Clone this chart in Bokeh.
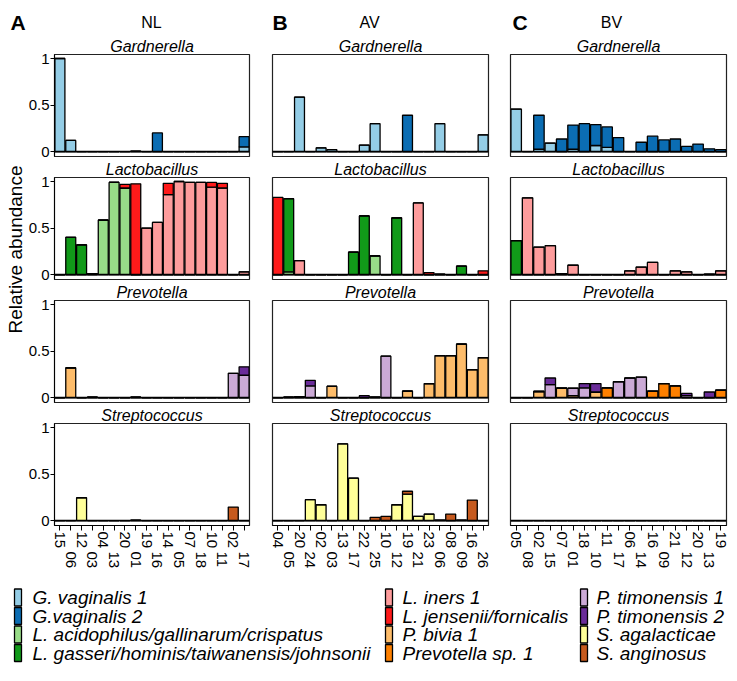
import math
from bokeh.plotting import figure
from bokeh.layouts import row, column
from bokeh.models import ColumnDataSource, Range1d, FixedTicker, LinearAxis, Span
from bokeh.embed import file_html
from bokeh.resources import INLINE
from bokeh.core.properties import value

FONT = "Liberation Sans"

# ---------------- data ----------------
species_names = ["G. vaginalis 1", "G.vaginalis 2",
                 "L. acidophilus/gallinarum/crispatus", "L. gasseri/hominis/taiwanensis/johnsonii",
                 "L. iners 1", "L. jensenii/fornicalis", "P. bivia 1", "Prevotella sp. 1",
                 "P. timonensis 1", "P. timonensis 2", "S. agalacticae", "S. anginosus"]
species_colors = ["#94cde6", "#0b6db3", "#98dc88", "#119a19", "#fe9c9c", "#fe1a1a",
                  "#fdbc6a", "#fe8000", "#cbaad6", "#6a2c99", "#ffff99", "#c65a1e"]
genera = ["Gardnerella", "Lactobacillus", "Prevotella", "Streptococcus"]
group_titles = ["NL", "AV", "BV"]
panel_letters = ["A", "B", "C"]

nl_samples = ["15", "06", "12", "03", "04", "13", "20", "01", "19", "16", "14", "05", "07", "18", "10", "11", "02", "17"]
av_samples = ["04", "05", "20", "24", "02", "03", "13", "17", "22", "25", "10", "12", "19", "21", "23", "06", "08", "09", "16", "26"]
bv_samples = ["05", "08", "02", "15", "07", "01", "18", "10", "11", "17", "06", "14", "16", "09", "21", "12", "20", "13", "19"]

# NL
nl_gv1 = [1.00, 0.12, 0, 0, 0, 0, 0, 0.005, 0, 0, 0, 0, 0, 0, 0, 0, 0, 0.05]
nl_gv2 = [0, 0, 0, 0, 0, 0, 0, 0, 0, 0.20, 0, 0, 0, 0, 0, 0, 0, 0.11]
nl_lacid = [0, 0, 0, 0, 0.585, 0.99, 0.93, 0, 0, 0, 0, 0, 0, 0, 0, 0, 0, 0]
nl_lgas = [0, 0.40, 0.32, 0.01, 0, 0, 0, 0, 0, 0, 0, 0, 0, 0, 0, 0, 0, 0]
nl_liners = [0, 0, 0, 0, 0, 0, 0, 0, 0.50, 0.56, 0.86, 1.00, 0.99, 0.99, 0.94, 0.93, 0, 0.03]
nl_ljen = [0, 0, 0, 0, 0, 0, 0.04, 0.975, 0, 0, 0.12, 0, 0, 0, 0.05, 0.05, 0, 0]
nl_pbiv = [0, 0.32, 0, 0, 0, 0, 0, 0, 0, 0, 0, 0, 0, 0, 0, 0, 0, 0]
nl_psp = [0, 0, 0, 0.005, 0, 0, 0, 0.004, 0, 0, 0, 0, 0, 0, 0, 0, 0, 0]
nl_ptim1 = [0, 0, 0, 0, 0, 0, 0, 0, 0, 0, 0, 0, 0, 0, 0, 0, 0.26, 0.24]
nl_ptim2 = [0, 0, 0, 0, 0, 0, 0, 0, 0, 0, 0, 0, 0, 0, 0, 0, 0, 0.09]
nl_sagal = [0, 0, 0.245, 0, 0, 0, 0, 0.005, 0, 0, 0, 0, 0, 0, 0, 0, 0, 0]
nl_sang = [0, 0, 0, 0, 0, 0, 0, 0, 0, 0, 0, 0, 0, 0, 0, 0, 0.145, 0]

# AV
av_gv1 = [0, 0, 0.585, 0, 0.04, 0.02, 0, 0, 0.07, 0.30, 0, 0, 0, 0, 0, 0.30, 0, 0, 0, 0.18]
av_gv2 = [0, 0, 0, 0, 0, 0, 0, 0, 0, 0, 0, 0, 0.39, 0, 0, 0, 0, 0, 0, 0]
av_lacid = [0, 0.03, 0, 0, 0, 0, 0, 0, 0, 0.20, 0, 0, 0, 0, 0, 0, 0, 0, 0, 0]
av_lgas = [0, 0.785, 0, 0, 0, 0, 0, 0.24, 0.63, 0, 0, 0.61, 0, 0, 0, 0, 0, 0.09, 0, 0]
av_liners = [0, 0, 0.15, 0, 0, 0, 0, 0, 0, 0, 0, 0, 0, 0.77, 0, 0.005, 0, 0, 0, 0]
av_ljen = [0.83, 0, 0, 0, 0, 0, 0, 0, 0, 0, 0, 0, 0, 0, 0.02, 0, 0, 0, 0, 0.04]
av_pbiv = [0, 0, 0, 0, 0, 0.12, 0, 0, 0, 0, 0, 0, 0.07, 0, 0.15, 0.45, 0.45, 0.575, 0.30, 0.43]
av_psp = [0, 0.005, 0.01, 0, 0, 0, 0, 0, 0, 0.005, 0, 0, 0, 0, 0, 0, 0, 0, 0, 0]
av_ptim1 = [0, 0, 0, 0.125, 0, 0, 0, 0, 0, 0, 0.445, 0, 0, 0, 0, 0, 0, 0, 0, 0]
av_ptim2 = [0, 0, 0, 0.06, 0, 0, 0, 0, 0.02, 0, 0, 0, 0, 0, 0, 0, 0, 0, 0, 0]
av_sagal = [0, 0, 0, 0.225, 0.17, 0, 0.825, 0.455, 0, 0, 0, 0.17, 0.285, 0.045, 0.07, 0.005, 0, 0.005, 0, 0]
av_sang = [0, 0, 0, 0, 0, 0, 0, 0, 0, 0.035, 0.045, 0, 0.03, 0, 0, 0, 0.07, 0, 0.22, 0]

# BV
bv_gv1 = [0.455, 0, 0.025, 0.09, 0, 0.025, 0, 0.065, 0.045, 0, 0, 0, 0, 0, 0, 0, 0, 0, 0]
bv_gv2 = [0, 0, 0.365, 0, 0.135, 0.26, 0.30, 0.225, 0.22, 0.15, 0, 0.10, 0.165, 0.125, 0.135, 0.055, 0.08, 0.03, 0.02]
bv_lacid = [0, 0, 0, 0, 0, 0, 0, 0, 0, 0, 0, 0, 0, 0, 0, 0, 0, 0, 0]
bv_lgas = [0.365, 0, 0, 0, 0.01, 0, 0, 0, 0, 0, 0, 0, 0, 0, 0, 0, 0, 0, 0]
bv_liners = [0, 0.825, 0.295, 0.31, 0, 0.10, 0, 0, 0, 0, 0.04, 0.08, 0.13, 0, 0.04, 0.03, 0, 0.005, 0.04]
bv_ljen = [0, 0, 0, 0, 0, 0, 0, 0, 0, 0, 0, 0, 0, 0, 0, 0, 0, 0, 0]
bv_pbiv = [0, 0, 0.065, 0, 0.10, 0.02, 0, 0.06, 0, 0, 0, 0, 0, 0, 0, 0, 0, 0, 0]
bv_psp = [0, 0, 0, 0, 0, 0, 0, 0, 0.105, 0, 0, 0, 0.07, 0.15, 0.125, 0, 0, 0, 0.08]
bv_ptim1 = [0, 0, 0, 0.14, 0, 0.08, 0.105, 0, 0, 0.17, 0.21, 0.22, 0, 0, 0, 0.02, 0, 0, 0]
bv_ptim2 = [0, 0, 0, 0.07, 0, 0, 0.045, 0.09, 0, 0, 0, 0, 0, 0, 0, 0.025, 0, 0.06, 0]
bv_sagal = [0, 0, 0, 0, 0, 0, 0, 0, 0, 0, 0, 0, 0, 0, 0, 0, 0, 0, 0]
bv_sang = [0, 0, 0, 0, 0, 0, 0, 0, 0, 0, 0, 0, 0, 0, 0, 0, 0, 0, 0]

groups = [
    (nl_samples, [[nl_gv1, nl_gv2], [nl_lacid, nl_lgas, nl_liners, nl_ljen],
                  [nl_pbiv, nl_psp, nl_ptim1, nl_ptim2], [nl_sagal, nl_sang]]),
    (av_samples, [[av_gv1, av_gv2], [av_lacid, av_lgas, av_liners, av_ljen],
                  [av_pbiv, av_psp, av_ptim1, av_ptim2], [av_sagal, av_sang]]),
    (bv_samples, [[bv_gv1, bv_gv2], [bv_lacid, bv_lgas, bv_liners, bv_ljen],
                  [bv_pbiv, bv_psp, bv_ptim1, bv_ptim2], [bv_sagal, bv_sang]]),
]
genus_species = [[0, 1], [2, 3, 4, 5], [6, 7, 8, 9], [10, 11]]

# ---------------- layout constants ----------------
COL_LEFT = [28, 20, 18]
COL_RIGHT = [3, 4, 4]
COL_FRAME = [196, 216, 216]
TOP = 17
PAD = 3
FRAME_H = 103
BOTTOM = 46
LABEL_W = 25
HEAD_H = 36
TOTAL_W = LABEL_W + sum(COL_LEFT) + sum(COL_RIGHT) + sum(COL_FRAME)


def blank_fig(w, h):
    f = figure(width=w, height=h, x_range=Range1d(0, w), y_range=Range1d(0, h),
               output_backend="svg", toolbar_location=None, min_border=0,
               x_axis_location=None, y_axis_location=None)
    f.outline_line_color = None
    f.xgrid.visible = False
    f.ygrid.visible = False
    return f


def make_panel(samples, series, gi, col):
    n = len(samples)
    bottom = gi == 3
    keys = ["s%d" % k for k in genus_species[gi]]
    colors = [species_colors[k] for k in genus_species[gi]]
    data = {"x": list(range(n))}
    for k, vals in zip(keys, series):
        data[k] = vals
    src = ColumnDataSource(data)
    bb = BOTTOM if bottom else PAD
    p = figure(width=COL_LEFT[col] + COL_FRAME[col] + COL_RIGHT[col], height=TOP + FRAME_H + bb,
               x_range=Range1d(-0.5, n - 0.5), y_range=Range1d(-0.053, 1.043),
               output_backend="svg", toolbar_location=None,
               min_border_left=COL_LEFT[col], min_border_right=COL_RIGHT[col],
               min_border_top=TOP, min_border_bottom=bb,
               x_axis_location="below" if bottom else None,
               y_axis_location="left" if col == 0 else None)
    p.title.text = genera[gi]
    p.title.text_font = FONT
    p.title.text_font_style = "italic"
    p.title.text_font_size = "16px"
    p.title.text_color = "black"
    p.title.align = "center"
    p.title.standoff = -1
    p.xgrid.visible = False
    p.ygrid.visible = False
    p.outline_line_color = "#222222"
    p.outline_line_width = 1.2
    p.vbar_stack(keys, x="x", width=0.92, source=src, fill_color=colors,
                 line_color="black", line_width=1.3)
    p.add_layout(Span(location=0, dimension="width", line_color="black", line_width=1.8))
    if col == 0:
        ax = p.yaxis[0]
        ax.ticker = FixedTicker(ticks=[0, 0.5, 1])
        ax.major_label_overrides = {0: "0", 0.5: "0.5", 1: "1"}
        ax.major_tick_out = 4
        ax.major_tick_in = 0
        ax.minor_tick_out = 0
        ax.minor_tick_in = 0
        ax.major_label_standoff = 1
        ax.major_label_text_font = FONT
        ax.major_label_text_font_size = "15px"
        ax.major_label_text_color = "black"
        ax.axis_line_color = "black"
    if bottom:
        ax = p.xaxis[0]
        ax.ticker = FixedTicker(ticks=list(range(n)))
        ax.major_label_overrides = {i: (s if i % 2 == 0 else "") for i, s in enumerate(samples)}
        ax.major_label_orientation = "vertical"
        ax.major_tick_out = 5
        ax.major_tick_in = 0
        ax.minor_tick_out = 0
        ax.minor_tick_in = 0
        ax.major_label_standoff = 1
        ax.major_label_text_font = FONT
        ax.major_label_text_font_size = "15px"
        ax.major_label_text_color = "black"
        ax.axis_line_color = "black"
        odd = [i for i in range(n) if i % 2 == 1]
        ax2 = LinearAxis(ticker=FixedTicker(ticks=odd),
                         major_label_overrides={i: samples[i] for i in odd},
                         major_label_orientation="vertical",
                         major_tick_out=0, major_tick_in=0, minor_tick_out=0, minor_tick_in=0,
                         axis_line_color=None, major_label_standoff=0,
                         major_label_text_font=FONT, major_label_text_font_size="15px",
                         major_label_text_color="black")
        p.add_layout(ax2, "below")
    return p


columns = []
for col, (samples, panels) in enumerate(groups):
    figs = [make_panel(samples, panels[gi], gi, col) for gi in range(4)]
    columns.append(column(*figs, spacing=0))

# left label (page has no body margin: the figures start at the window corner)
GRID_H = 4 * (TOP + FRAME_H) + 3 * PAD + BOTTOM
lab = blank_fig(LABEL_W, GRID_H)
lab.text(x=[15], y=[GRID_H - (249 - HEAD_H)], text=["Relative abundance"], angle=math.pi / 2,
         text_align="center", text_baseline="middle", text_font=value(FONT),
         text_font_size="19px", text_color="black")

# header
head = blank_fig(TOTAL_W, HEAD_H)
head.text(x=[10, 272, 512], y=[14, 14, 14], text=panel_letters, text_align="left",
          text_baseline="alphabetic", text_font=value(FONT), text_font_style="bold",
          text_font_size="21px", text_color="black")
head.text(x=[151, 369, 611], y=[14, 14, 14], text=group_titles, text_align="center",
          text_baseline="middle", text_font=value(FONT), text_font_size="16px", text_color="black")

# legend
LEG_H = 95
leg = blank_fig(TOTAL_W, LEG_H)
box_x = [17.5, 388.5, 583.5]
txt_x = [32, 402, 596]
row_y = [69, 50.5, 32, 13.5]
bx, by, tx, ty = [], [], [], []
for k in range(len(species_names)):
    c, r = divmod(k, 4)
    bx.append(box_x[c]); by.append(row_y[r])
    tx.append(txt_x[c]); ty.append(row_y[r])
leg.rect(x=bx, y=by, width=7, height=17, fill_color=species_colors, line_color="black", line_width=1.3)
leg.text(x=tx, y=ty, text=species_names, text_align="left", text_baseline="middle",
         text_font=value(FONT), text_font_style="italic", text_font_size="19px", text_color="black")

layout = column(head, row(lab, *columns, spacing=0), leg, spacing=0)

open("out.html", "w").write(file_html(layout, INLINE))
